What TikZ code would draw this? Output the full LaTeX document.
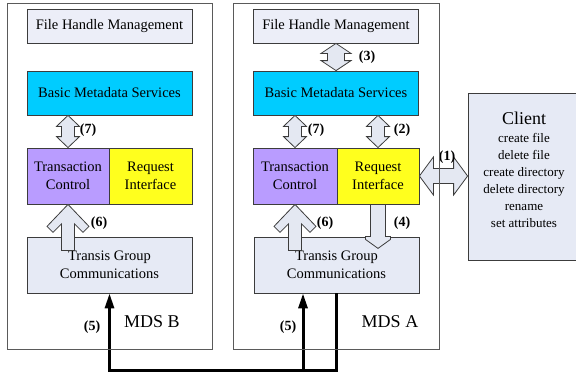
\documentclass[tikz,border=0pt]{standalone}
\usepackage{fontspec}
\setmainfont{Liberation Serif}
\usetikzlibrary{calc,arrows.meta}
\definecolor{boxline}{HTML}{3C3C3C}
\definecolor{serverline}{HTML}{5A5A5A}
\definecolor{fhmfill}{HTML}{ECEEF8}
\definecolor{bmsfill}{HTML}{00CCFF}
\definecolor{tcfill}{HTML}{B99CFF}
\definecolor{rifill}{HTML}{FFFF1E}
\definecolor{tgcfill}{HTML}{E6EAF5}
\definecolor{arrowfill}{HTML}{E4E8F2}
\newcommand{\mainsize}{\rmfamily\fontsize{14.5}{18}\selectfont}
\newcommand{\numsize}{\rmfamily\fontsize{14}{16}\selectfont\bfseries}
\newcommand{\mdssize}{\rmfamily\fontsize{18}{20}\selectfont}
\newcommand{\listsize}{\rmfamily\fontsize{13}{17}\selectfont}
\newcommand{\dblv}[5]{\draw[blk] let \p1=(#1), \p2=(#2) in
  (\p1) -- (\x1+#3pt,\y1-#5pt) -- (\x1+#4pt,\y1-#5pt) -- (\x1+#4pt,\y2+#5pt) -- (\x1+#3pt,\y2+#5pt)
  -- (\x1,\y2) -- (\x1-#3pt,\y2+#5pt) -- (\x1-#4pt,\y2+#5pt) -- (\x1-#4pt,\y1-#5pt) -- (\x1-#3pt,\y1-#5pt) -- cycle;}
\newcommand{\dblh}[5]{\draw[blk] let \p1=(#1), \p2=(#2) in
  (\p1) -- (\x1+#5pt,\y1+#3pt) -- (\x1+#5pt,\y1+#4pt) -- (\x2-#5pt,\y1+#4pt) -- (\x2-#5pt,\y1+#3pt)
  -- (\x2,\y1) -- (\x2-#5pt,\y1-#3pt) -- (\x2-#5pt,\y1-#4pt) -- (\x1+#5pt,\y1-#4pt) -- (\x1+#5pt,\y1-#3pt) -- cycle;}
\newcommand{\uparr}[1]{\draw[blk] let \p1=(#1) in
  (\p1) -- (\x1-21pt,\y1-22pt) -- (\x1-15pt,\y1-28pt) -- (\x1-6.5pt,\y1-19.5pt) -- (\x1-6.5pt,\y1-46pt)
  -- (\x1+6.5pt,\y1-46pt) -- (\x1+6.5pt,\y1-19.5pt) -- (\x1+15pt,\y1-28pt) -- (\x1+21pt,\y1-22pt) -- cycle;}
\newcommand{\downarr}[1]{\draw[blk] let \p1=(#1) in
  (\x1-7.5pt,\y1) -- (\x1-7.5pt,\y1-32pt) -- (\x1-12.5pt,\y1-32pt) -- (\x1-12.5pt,\y1-35pt) -- (\x1,\y1-44pt)
  -- (\x1+12.5pt,\y1-35pt) -- (\x1+12.5pt,\y1-32pt) -- (\x1+7.5pt,\y1-32pt) -- (\x1+7.5pt,\y1) -- cycle;}
\begin{document}
\begin{tikzpicture}[x=1pt,y=-1pt,
    box/.style={draw=boxline,line width=0.8pt,inner sep=0pt,align=center,font=\mainsize},
    wide/.style={box,minimum width=165pt},
    half/.style={box,minimum width=83pt,minimum height=56pt},
    blk/.style={draw=boxline,line width=0.8pt,fill=arrowfill,line join=miter},
    num/.style={font=\numsize},
    bus/.style={line width=3pt,-{Triangle[length=15pt,width=9pt]}},
    server/.style={draw=serverline,line width=1pt,inner sep=0pt}]
  \useasboundingbox (0,0) rectangle (576,373);

  \draw (109.5,26) node[wide,fill=fhmfill,minimum height=34pt] (fhmB) {File Handle Management};
  \draw (109.5,93) node[wide,fill=bmsfill,minimum height=44pt] (bmsB) {Basic Metadata Services};
  \draw (68,176) node[half,fill=tcfill,minimum width=82pt] (tcB) {Transaction\\Control};
  \draw (150.5,176) node[half,fill=rifill] (riB) {Request\\Interface};
  \draw (109.5,265) node[wide,fill=tgcfill,minimum height=56pt] (tgcB) {Transis Group\\Communications};

  \draw (336,26) node[wide,fill=fhmfill,minimum height=34pt] (fhmA) {File Handle Management};
  \draw (336,93) node[wide,fill=bmsfill,minimum height=44pt] (bmsA) {Basic Metadata Services};
  \draw (295,176) node[half,fill=tcfill,minimum width=84pt] (tcA) {Transaction\\Control};
  \draw (378,176) node[half,fill=rifill,minimum width=82pt] (riA) {Request\\Interface};
  \draw (336.5,265) node[wide,fill=tgcfill,minimum height=56pt] (tgcA) {Transis Group\\Communications};

  \draw (524,176.5) node[box,fill=tgcfill,minimum width=112pt,minimum height=167pt] (client) {};
  \draw (524,170) node[font=\listsize,align=center] (clientTxt) {{\mdssize Client}\\[1pt]create file\\delete file\\create directory\\delete directory\\rename\\set attributes};

  \dblv{tcB.north |- bmsB.south}{tcB.north}{11.5}{6.5}{11}
  \dblv{fhmA.south}{bmsA.north}{15}{8.5}{10}
  \dblv{tcA.north |- bmsA.south}{tcA.north}{11.5}{6.5}{11}
  \dblv{riA.north |- bmsA.south}{riA.north}{11.5}{6.5}{11}
  \dblh{riA.east}{client.west}{19}{7.5}{14}
  \uparr{tcB.south}
  \uparr{tcA.south}
  \downarr{riA.south}

  \coordinate (busB) at (tgcB.south |- 0,370);
  \coordinate (busA) at (303,370);
  \draw[bus] (tgcA.south) |- (busB) -- (tgcB.south);
  \draw[bus] (busA) -- (busA |- tgcA.south);

  \draw (88,130) node[num] (l7B) {(7)};
  \draw (99,223) node[num] (l6B) {(6)};
  \draw (92,327) node[num] (l5B) {(5)};
  \draw (367,57) node[num] (l3A) {(3)};
  \draw (316,130) node[num] (l7A) {(7)};
  \draw (402,130) node[num] (l2A) {(2)};
  \draw (447,157) node[num] (l1A) {(1)};
  \draw (325,223) node[num] (l6A) {(6)};
  \draw (402,223) node[num] (l4A) {(4)};
  \draw (288,327) node[num] (l5A) {(5)};
  \draw (152,322) node[font=\mdssize] (nameB) {MDS B};
  \draw (390,322) node[font=\mdssize] (nameA) {MDS A};

  \draw (109.5,176.3) node[server,minimum width=205pt,minimum height=345.5pt] (srvB) {};
  \draw (336.5,176.3) node[server,minimum width=206pt,minimum height=345.5pt] (srvA) {};
\end{tikzpicture}
\end{document}
